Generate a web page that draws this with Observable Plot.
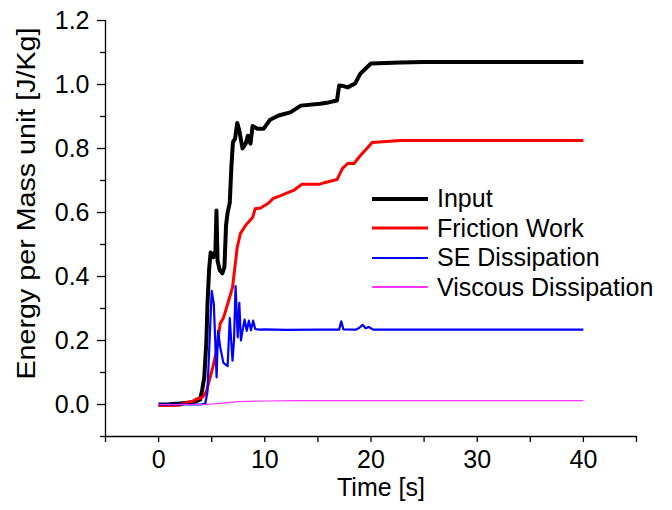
<!DOCTYPE html>
<html>
<head>
<meta charset="utf-8">
<script src="https://cdn.jsdelivr.net/npm/d3@7"></script>
<script src="https://cdn.jsdelivr.net/npm/@observablehq/plot@0.6"></script>
<style>
  html, body { margin: 0; padding: 0; background: #fff; }
  #wrap { position: relative; width: 672px; height: 510px; font-family: "Liberation Sans", Arial, sans-serif; }
  #legend { position: absolute; left: 372px; top: 184px; }
  .row { display: flex; align-items: center; height: 29.5px; font-size: 25px; color: #000; white-space: nowrap; }
  .row svg { margin-right: 9px; }
</style>
</head>
<body>
<div id="wrap"><div id="legend"></div></div>
<script>
// ---- Data ----
const seriesNames = ["Input", "Friction Work", "SE Dissipation", "Viscous Dissipation"];
const seriesColors = ["#000000", "#ff0000", "#0000ff", "#ff33ff"];
const seriesWidths = [4, 3, 2.2, 1.2];

const inputT = [0, 1, 2, 3, 3.5, 3.9, 4.1, 4.3, 4.5, 4.6, 4.75, 4.9, 5.15, 5.35, 5.45, 5.55, 5.75, 6.0, 6.2, 6.35, 6.5, 6.7, 6.85, 7.0, 7.2, 7.4, 7.6, 7.9, 8.2, 8.4, 8.65, 8.85, 9.3, 9.9, 10.5, 11.3, 12.4, 13.4, 15.2, 16.0, 16.8, 17.0, 17.4, 17.8, 18.5, 19.0, 19.5, 20.0, 22.8, 25, 30, 40];
const inputV = [0, 0.001, 0.003, 0.006, 0.01, 0.015, 0.045, 0.085, 0.2, 0.31, 0.42, 0.475, 0.46, 0.48, 0.606, 0.45, 0.42, 0.41, 0.43, 0.56, 0.6, 0.63, 0.74, 0.82, 0.83, 0.88, 0.856, 0.8, 0.815, 0.84, 0.815, 0.87, 0.862, 0.862, 0.89, 0.903, 0.913, 0.934, 0.94, 0.944, 0.95, 0.997, 0.995, 0.991, 1.003, 1.034, 1.05, 1.066, 1.069, 1.07, 1.07, 1.07];

const frictionT = [0, 2, 2.5, 3.2, 3.6, 4.0, 4.2, 4.5, 4.7, 5.1, 5.4, 5.8, 6.1, 6.6, 6.96, 7.15, 7.4, 7.7, 8.2, 8.85, 9.1, 9.6, 10.3, 10.8, 11.5, 12.0, 12.7, 13.5, 15.1, 15.7, 16.8, 17.3, 17.8, 18.4, 19.0, 19.7, 20.1, 22.8, 30, 40];
const frictionV = [-0.003, -0.002, 0.005, 0.01, 0.018, 0.02, 0.025, 0.04, 0.066, 0.116, 0.16, 0.253, 0.27, 0.325, 0.366, 0.42, 0.49, 0.534, 0.56, 0.584, 0.612, 0.614, 0.628, 0.644, 0.653, 0.66, 0.669, 0.688, 0.688, 0.694, 0.703, 0.737, 0.753, 0.753, 0.778, 0.803, 0.819, 0.825, 0.825, 0.825];

const seT = [0, 2, 4, 4.4, 4.6, 4.8, 5.0, 5.2, 5.46, 5.6, 5.8, 6.1, 6.5, 6.7, 6.96, 7.1, 7.25, 7.45, 7.6, 7.75, 7.9, 8.1, 8.3, 8.5, 8.7, 8.9, 9.1, 9.5, 10, 12, 15, 17.0, 17.2, 17.4, 18.6, 18.9, 19.2, 19.5, 19.8, 20.2, 25, 30, 40];
const seV = [0, 0, 0, 0.003, 0.04, 0.2, 0.355, 0.315, 0.085, 0.23, 0.18, 0.13, 0.12, 0.27, 0.137, 0.2, 0.37, 0.21, 0.318, 0.2, 0.23, 0.265, 0.23, 0.262, 0.232, 0.262, 0.236, 0.234, 0.235, 0.233, 0.234, 0.234, 0.26, 0.235, 0.234, 0.24, 0.249, 0.238, 0.242, 0.234, 0.234, 0.234, 0.234];

const viscousT = [0, 4.5, 5.5, 6.5, 7.5, 8.5, 10, 13, 20, 40];
const viscousV = [0, 0, 0.003, 0.006, 0.009, 0.01, 0.011, 0.012, 0.012, 0.012];

const xMajor = [0, 10, 20, 30, 40];
const xMinor = [-5, 5, 15, 25, 35, 45];
const yMajor = [0.0, 0.2, 0.4, 0.6, 0.8, 1.0, 1.2];
const yMinor = [-0.1, 0.1, 0.3, 0.5, 0.7, 0.9, 1.1];
const xLabel = "Time [s]";
const yLabel = "Energy per Mass unit [J/Kg]";

// ---- build rows ----
const toRows = (ts, vs, name) => ts.map((t, i) => ({t, v: vs[i], name}));
const seriesData = [
  toRows(inputT, inputV, seriesNames[0]),
  toRows(frictionT, frictionV, seriesNames[1]),
  toRows(seT, seV, seriesNames[2]),
  toRows(viscousT, viscousV, seriesNames[3])
];

const font = "Liberation Sans, Arial, sans-serif";
const chart = Plot.plot({
  width: 672,
  height: 510,
  marginLeft: 105,
  marginRight: 36,
  marginTop: 20,
  marginBottom: 74,
  x: {domain: [-5, 45]},
  y: {domain: [-0.1, 1.2]},
  style: {fontFamily: font, fontSize: "25px", color: "#000", background: "#fff"},
  marks: [
    Plot.axisX(xMinor, {tickSize: 6, tickFormat: () => "", label: null, strokeWidth: 1.3}),
    Plot.axisX(xMajor, {tickSize: 6, tickPadding: 8, tickFormat: d => String(d), label: null, strokeWidth: 1.3, fontSize: 25}),
    Plot.axisY(yMinor, {tickSize: 5, tickFormat: () => "", label: null, strokeWidth: 1.3}),
    Plot.axisY(yMajor, {tickSize: 8, tickPadding: 8, tickFormat: d => d.toFixed(1), label: null, strokeWidth: 1.3, fontSize: 25}),
    Plot.ruleX([-5], {stroke: "#000", strokeWidth: 1.3}),
    Plot.ruleY([-0.1], {stroke: "#000", strokeWidth: 1.3}),
    ...seriesData.map((rows, i) => Plot.line(rows, {
      x: "t", y: "v", stroke: seriesColors[i], strokeWidth: seriesWidths[i],
      strokeLinejoin: "round", strokeLinecap: "butt"
    })),
    Plot.text([xLabel], {frameAnchor: "bottom", dx: 10, dy: 59, fontSize: 25, fill: "#000", textAnchor: "middle"}),
    Plot.text([yLabel], {frameAnchor: "left", rotate: -90, dx: -79, dy: -25, fontSize: 25, fill: "#000", textAnchor: "middle", className: "ylab"})
  ]
});
document.getElementById("wrap").prepend(chart);
// stretch the y label to the reference's length
d3.select(chart).selectAll(".ylab text").attr("textLength", 352).attr("lengthAdjust", "spacingAndGlyphs");

// ---- legend ----
const legend = document.getElementById("legend");
seriesNames.forEach((name, i) => {
  const row = document.createElement("div");
  row.className = "row";
  row.innerHTML = `<svg width="56" height="10"><line x1="0" x2="56" y1="5" y2="5" stroke="${seriesColors[i]}" stroke-width="${Math.max(seriesWidths[i], 2)}"/></svg><span>${name}</span>`;
  legend.appendChild(row);
});
</script>
</body>
</html>
